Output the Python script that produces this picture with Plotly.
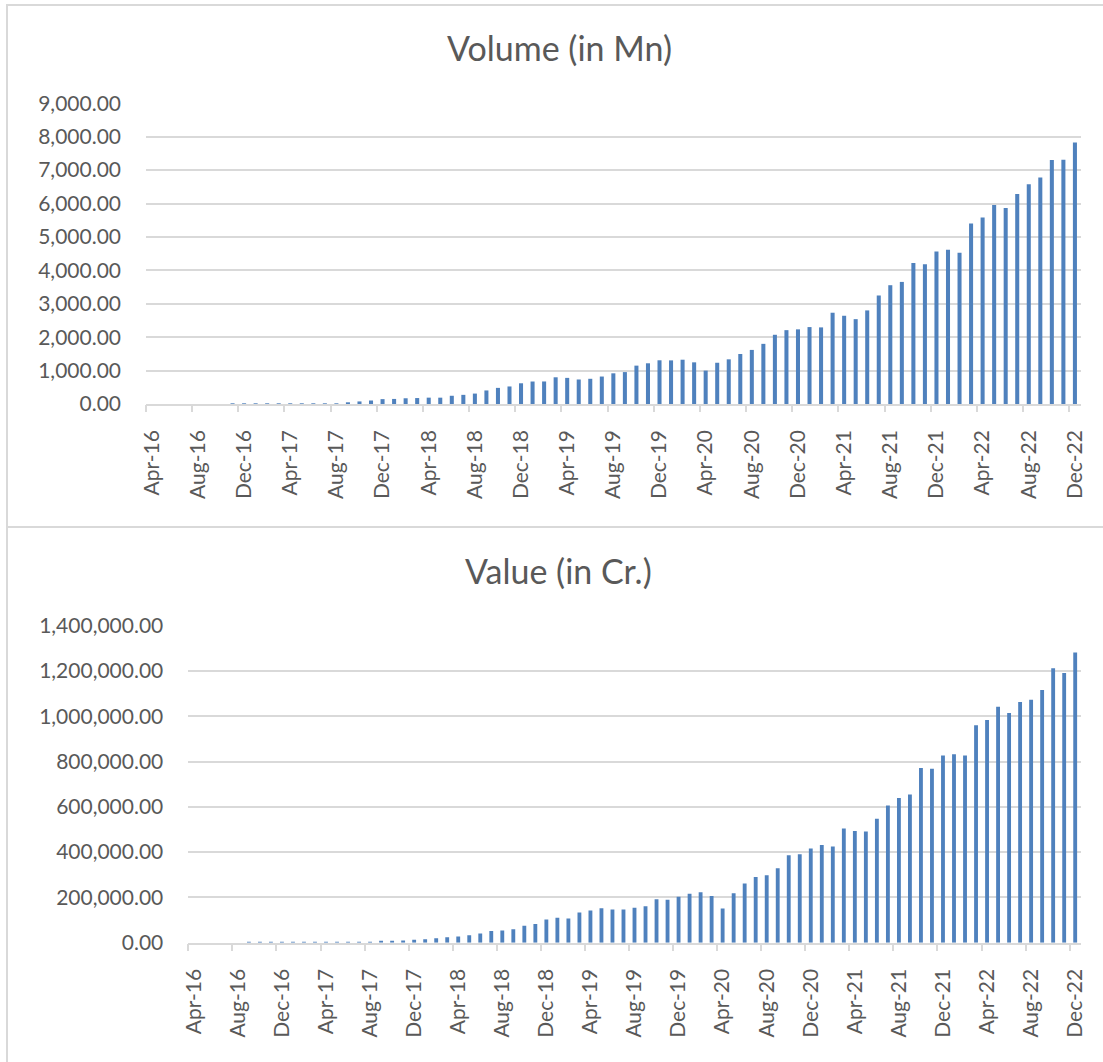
import plotly.graph_objects as go

W, H = 1103, 1062

months = ["Apr", "May", "Jun", "Jul", "Aug", "Sep", "Oct", "Nov", "Dec", "Jan", "Feb", "Mar"]
categories = []
for fy in range(16, 23):
    for i, m in enumerate(months):
        yr = fy if i < 9 else fy + 1
        categories.append(f"{m}-{yr}")
categories = categories[:81]  # Apr-16 .. Dec-22

volume_mn = [
    0, 0, 0, 0, 0.09, 0.09, 0.10, 0.29, 1.99, 4.15, 4.17, 6.37,
    7.20, 9.36, 10.35, 11.63, 16.80, 30.98, 76.96, 104.82, 145.64, 151.83, 171.40, 178.05,
    190.08, 189.48, 246.37, 273.75, 312.02, 405.87, 482.36, 524.94, 620.17, 672.75, 674.19, 799.54,
    781.79, 733.54, 754.54, 822.30, 918.35, 955.02, 1148.36, 1218.49, 1308.40, 1305.46, 1325.69, 1246.84,
    999.57, 1234.50, 1336.93, 1497.36, 1618.83, 1800.15, 2071.62, 2210.23, 2234.16, 2302.33, 2292.90, 2731.68,
    2641.06, 2539.57, 2801.12, 3247.82, 3555.55, 3654.30, 4218.65, 4186.48, 4566.30, 4617.15, 4527.49, 5405.65,
    5583.05, 5955.20, 5862.75, 6288.40, 6579.63, 6780.80, 7305.42, 7308.90, 7828.90,
]

value_cr = [
    0, 0, 0, 0, 3.09, 32.64, 48.57, 100.46, 707.93, 1696.22, 1937.71, 2425.14,
    2271.24, 2797.08, 3098.35, 3411.35, 4156.71, 5325.80, 7057.78, 9669.33, 13144.29, 15571.18, 19126.20, 24172.60,
    27037.08, 33288.32, 40834.03, 51843.27, 54212.26, 59835.29, 74978.27, 82232.21, 102594.82, 109932.43, 106737.12, 133460.72,
    142034.39, 152449.29, 146386.65, 146387.40, 154507.01, 161456.26, 191359.94, 189229.00, 202520.76, 216242.97, 222516.96, 206462.32,
    151140.66, 218391.62, 261835.01, 290538.04, 298307.61, 329027.66, 386106.62, 390999.00, 416176.21, 431181.89, 425062.76, 504886.44,
    493663.32, 490638.64, 547373.15, 606281.14, 639116.98, 654351.81, 771444.98, 768436.35, 826848.14, 831993.11, 826843.00, 960581.66,
    983302.27, 1041506.32, 1014384.31, 1062747.35, 1072792.68, 1116438.09, 1211582.51, 1190593.68, 1282055.01,
]

vol_ticks = [0, 1000, 2000, 3000, 4000, 5000, 6000, 7000, 8000, 9000]
val_ticks = [0, 200000, 400000, 600000, 800000, 1000000, 1200000, 1400000]

idx = list(range(len(categories)))
label_pos = idx[::4]
label_text = categories[::4]
boundary_pos = [p - 0.5 for p in label_pos]

FONT = "Lato, Calibri, Carlito, sans-serif"
TXT = "#595959"
GRID = "#d9d9d9"
BAR = "#4F81BD"

def px_x(p):
    return p / W

def px_y(p):
    return 1 - p / H

fig = go.Figure()
fig.add_trace(go.Bar(x=idx, y=volume_mn, xaxis="x", yaxis="y",
                     marker=dict(color=BAR, line=dict(width=0)),
                     showlegend=False, hoverinfo="x+y"))
fig.add_trace(go.Bar(x=idx, y=value_cr, xaxis="x2", yaxis="y2",
                     marker=dict(color=BAR, line=dict(width=0)),
                     showlegend=False, hoverinfo="x+y"))

common_x = dict(
    range=[-0.5, len(categories) - 0.5], showgrid=False, zeroline=False,
    showline=True, linecolor=GRID, linewidth=1.5,
    tickmode="array", tickvals=label_pos, ticktext=label_text, ticks="",
    tickangle=-90, tickfont=dict(family=FONT, size=21, color=TXT),
    automargin=False, fixedrange=True, ticklabelstandoff=16,
)
tick_x = dict(
    range=[-0.5, len(categories) - 0.5], showgrid=False, zeroline=False,
    showline=False, tickmode="array", tickvals=boundary_pos,
    ticks="outside", ticklen=7, tickwidth=1.5, tickcolor=GRID,
    showticklabels=False, automargin=False, fixedrange=True,
)
common_y = dict(
    showgrid=True, gridcolor=GRID, gridwidth=1.5, zeroline=False,
    showline=False, ticks="", tickformat=",.2f",
    tickfont=dict(family=FONT, size=21, color=TXT),
    automargin=False, fixedrange=True,
)

x1_dom = [px_x(146), px_x(1080.7)]
x2_dom = [px_x(188.3), px_x(1080.7)]
y1_dom = [px_y(404), px_y(103.3)]
y2_dom = [px_y(942.7), px_y(625.7)]

fig.update_layout(
    width=W, height=H, autosize=False,
    margin=dict(l=0, r=0, t=0, b=0),
    paper_bgcolor="white", plot_bgcolor="white",
    bargap=0.65, showlegend=False,
    font=dict(family=FONT, color=TXT),
    xaxis=dict(domain=x1_dom, anchor="y", **common_x),
    yaxis=dict(domain=y1_dom, anchor="x", range=[0, 9000],
               tickvals=vol_ticks, ticklabelstandoff=24, **common_y),
    xaxis2=dict(domain=x2_dom, anchor="y2", **common_x),
    yaxis2=dict(domain=y2_dom, anchor="x2", range=[0, 1400000],
                tickvals=val_ticks, ticklabelstandoff=24, **common_y),
    xaxis3=dict(domain=x1_dom, anchor="y", overlaying="x", side="bottom", **tick_x),
    xaxis4=dict(domain=x2_dom, anchor="y2", overlaying="x2", side="bottom", **tick_x),
    annotations=[
        dict(text="Volume (in Mn)", x=px_x(559), y=px_y(47), xref="paper", yref="paper",
             xanchor="center", yanchor="middle", showarrow=False,
             font=dict(family=FONT, size=34, color=TXT)),
        dict(text="Value (in Cr.)", x=px_x(558), y=px_y(570), xref="paper", yref="paper",
             xanchor="center", yanchor="middle", showarrow=False,
             font=dict(family=FONT, size=34, color=TXT)),
    ],
    shapes=[
        dict(type="rect", xref="paper", yref="paper",
             x0=px_x(7), x1=px_x(1120), y0=px_y(527), y1=px_y(5),
             line=dict(color=GRID, width=2), fillcolor="rgba(0,0,0,0)", layer="below"),
        dict(type="rect", xref="paper", yref="paper",
             x0=px_x(7), x1=px_x(1120), y0=px_y(1080), y1=px_y(527),
             line=dict(color=GRID, width=2), fillcolor="rgba(0,0,0,0)", layer="below"),
    ],
)

# invisible helper traces so the overlaid tick-mark axes render
fig.add_trace(go.Scatter(x=[0], y=[0], xaxis="x3", yaxis="y", mode="markers",
                         marker=dict(opacity=0), showlegend=False, hoverinfo="skip"))
fig.add_trace(go.Scatter(x=[0], y=[0], xaxis="x4", yaxis="y2", mode="markers",
                         marker=dict(opacity=0), showlegend=False, hoverinfo="skip"))

fig.write_html("out.html")
